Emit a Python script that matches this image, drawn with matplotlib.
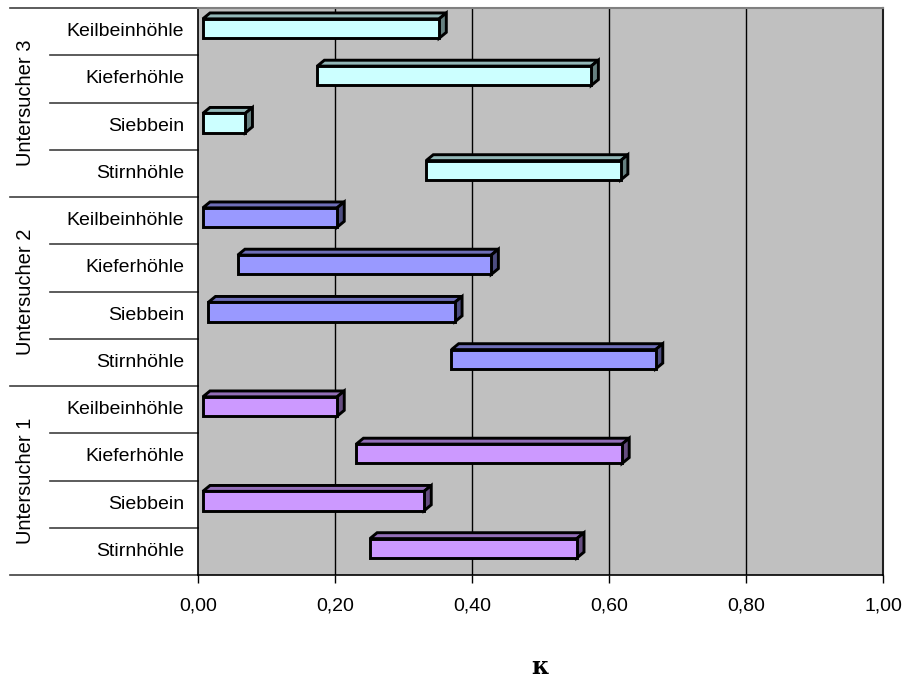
#!/usr/bin/python3

import matplotlib
matplotlib.use('Agg')
import matplotlib.pyplot as plt
import matplotlib.ticker as mtick
import matplotlib.transforms as mtransforms
from matplotlib.patches import Polygon

# rows listed bottom -> top inside each group
sites = ['Stirnhöhle', 'Siebbein', 'Kieferhöhle', 'Keilbeinhöhle']
examiners = ['Untersucher 1', 'Untersucher 2', 'Untersucher 3']

# kappa interval (lower, upper) per site, same order as `sites`
u1_low = [0.251, 0.007, 0.231, 0.007]
u1_high = [0.553, 0.330, 0.619, 0.203]
u2_low = [0.370, 0.015, 0.058, 0.007]
u2_high = [0.668, 0.375, 0.428, 0.203]
u3_low = [0.333, 0.007, 0.174, 0.007]
u3_high = [0.617, 0.069, 0.574, 0.352]

x_ticks = [0.0, 0.2, 0.4, 0.6, 0.8, 1.0]

colors = ['#CC99FF', '#9999FF', '#CCFFFF']

FONT = 'Liberation Sans'


def configure_matplotlib(dpi=100, figsize=(9.06, 6.95)):
    matplotlib.rcParams['figure.dpi'] = dpi
    matplotlib.rcParams['figure.figsize'] = figsize
    matplotlib.rcParams['font.family'] = [FONT, 'DejaVu Sans']


def shade(hexcol, f):
    r, g, b = matplotlib.colors.to_rgb(hexcol)
    return (r * f, g * f, b * f)


def comma_fmt(v, _):
    return '{:.2f}'.format(v).replace('.', ',')


def draw_bar(ax, row, lo, hi, color):
    h = 0.41
    y0 = row + 0.36
    y1 = y0 + h
    dx, dy = 0.0105, 0.125
    lw = 2.1
    top = Polygon([(lo, y1), (hi, y1), (hi + dx, y1 + dy), (lo + dx, y1 + dy)],
                  closed=True, facecolor=shade(color, 0.72), edgecolor='black',
                  linewidth=lw, joinstyle='miter', zorder=3)
    side = Polygon([(hi, y0), (hi, y1), (hi + dx, y1 + dy), (hi + dx, y0 + dy)],
                   closed=True, facecolor=shade(color, 0.5), edgecolor='black',
                   linewidth=lw, joinstyle='miter', zorder=3)
    ax.add_patch(top)
    ax.add_patch(side)
    ax.barh(y0 + h / 2, hi - lo, left=lo, height=h, color=color,
            edgecolor='black', linewidth=lw, zorder=4)


def make_figure(outname):
    fig = plt.figure()
    ax = fig.add_axes([198 / 906, 1 - 575 / 695, 685 / 906, 567 / 695])
    ax.set_facecolor('#C0C0C0')
    ax.set_xlim(0, 1)
    ax.set_ylim(0, 12)

    for x in x_ticks[1:-1]:
        ax.axvline(x, color='black', linewidth=1.0, zorder=1)

    lows = [u1_low, u2_low, u3_low]
    highs = [u1_high, u2_high, u3_high]
    for g in range(3):
        for i in range(4):
            draw_bar(ax, g * 4 + i, lows[g][i], highs[g][i], colors[g])

    # x axis
    ax.set_xticks(x_ticks)
    ax.xaxis.set_major_formatter(mtick.FuncFormatter(comma_fmt))
    ax.tick_params(axis='x', direction='out', length=6, width=1,
                   pad=10, labelsize=14)
    ax.set_yticks([])
    for name in ['left', 'bottom']:
        ax.spines[name].set_color('black')
        ax.spines[name].set_linewidth(1.2)
    ax.spines['top'].set_color('#808080')
    ax.spines['top'].set_linewidth(1.5)
    ax.spines['right'].set_color('#202020')
    ax.spines['right'].set_linewidth(1.5)

    # category separators and labels
    trans = mtransforms.blended_transform_factory(ax.transAxes, ax.transData)
    for k in range(13):
        x_start = -0.2745 if k % 4 == 0 else -0.216
        ax.plot([x_start, 0], [k, k], color='#404040', linewidth=1.2,
                transform=trans, clip_on=False)
    for g in range(3):
        for i in range(4):
            ax.text(-0.02, g * 4 + i + 0.5, sites[i], transform=trans,
                    ha='right', va='center', fontsize=14)
        ax.text(-0.252, g * 4 + 2, examiners[g], transform=trans,
                ha='center', va='center', rotation=90, fontsize=14.5)

    fig.text(540 / 906, 1 - 667 / 695, 'κ', ha='center', va='center',
             fontsize=17, fontweight='bold', family='DejaVu Serif')

    plt.savefig(outname)


def main():
    configure_matplotlib()
    make_figure('out.png')


if __name__ == '__main__':
    main()
